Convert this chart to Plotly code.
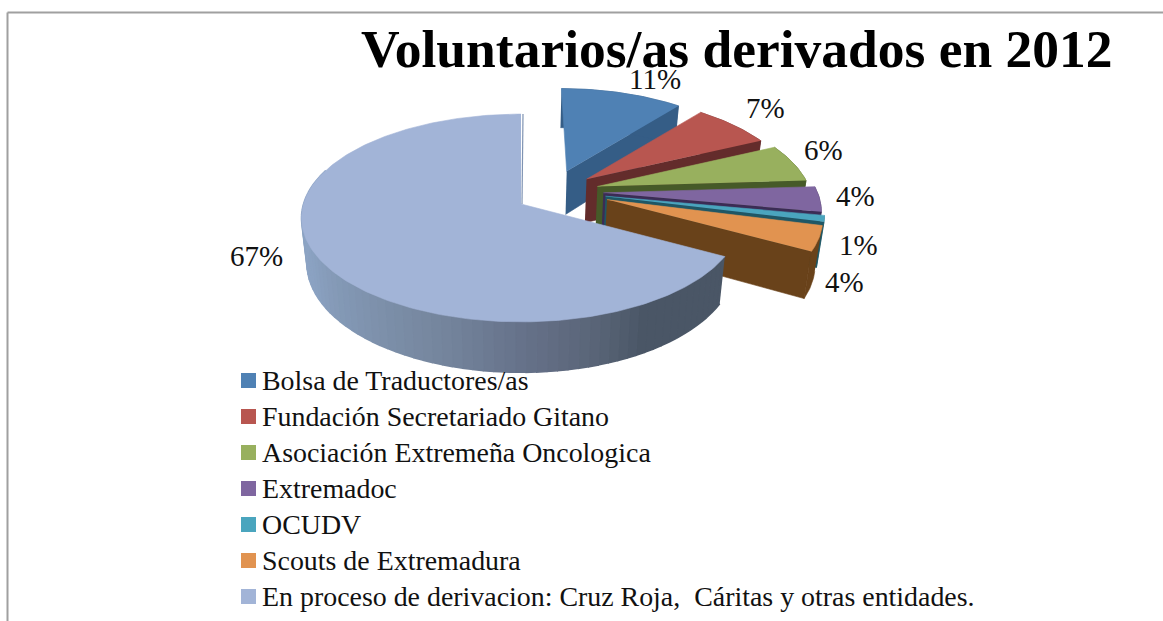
import math
import plotly.graph_objects as go

CATEGORIES = ["Bolsa de Traductores/as", "Fundación Secretariado Gitano",
              "Asociación Extremeña Oncologica", "Extremadoc", "OCUDV",
              "Scouts de Extremadura",
              "En proceso de derivacion: Cruz Roja,  Cáritas y otras entidades."]
VALUES = [11, 7, 6, 4, 1, 4, 67]
TITLE = "Voluntarios/as derivados en 2012"
TOP_COLORS = ["#4F81B4", "#B85650", "#98B05E", "#7F66A0", "#4AA5BE", "#E19350", "#A2B4D7"]
SIDE_COLORS = ["#355D86", "#632C2B", "#465A28", "#3B2C55", "#1F5765", "#69421A", "#4A5666"]
EXPLODE = [0.40, 0.40, 0.40, 0.40, 0.40, 0.40, 0.0]
RIM_X = [0.96, 0.985, 0.995, 1.0, 1.0, 0.98, 1.0]
LABEL_SHIFT = [(30, -14), (30, -17), (29, -13), (36, -3), (34, 26), (22, 43), (-64, -4)]
WALL_STOPS = [(118, "#4A5666"), (150, "#4A5666"), (163, "#5A6578"), (180, "#66728A"),
              (197, "#74849C"), (220, "#7F93AE"), (247, "#8BA2C2"), (290, "#8FA6C6")]

CX, CY, RX, RY, K = 521.0, 204.0, 217.5, 102.0, 0.1346
DEPTH, RY_BOTTOM, X_BOTTOM = 44.7, 107.0, 0.975
LEGEND_X, LEGEND_TEXT_X, LEGEND_TOP, LEGEND_PITCH = 248.5, 262.0, 380.5, 36.0
LEGEND_TEXT_DY = 3.0


def top(u, v):
    f = 1 / (1 + K * v)
    return CX + RX * u * f, CY - RY * v * f


def bottom(u, v):
    f = 1 / (1 + K * v)
    return CX + X_BOTTOM * RX * u * f, CY + DEPTH - RY_BOTTOM * v * f


def hexrgb(c):
    return [int(c[i:i + 2], 16) for i in (1, 3, 5)]


def wall_color(t):
    for (a, ca), (b, cb) in zip(WALL_STOPS, WALL_STOPS[1:]):
        if a <= t <= b:
            p = (t - a) / (b - a)
            r = [round(x + (y - x) * p) for x, y in zip(hexrgb(ca), hexrgb(cb))]
            return "rgb(%d,%d,%d)" % tuple(r)
    return WALL_STOPS[-1][1]


fig = go.Figure()


def poly(pts, color, width=0.6):
    fig.add_trace(go.Scatter(x=[p[0] for p in pts], y=[p[1] for p in pts], mode="lines",
                             fill="toself", fillcolor=color,
                             line=dict(color=color, width=width),
                             hoverinfo="skip", showlegend=False))


total = sum(VALUES)
start = 0.0
annotations = []
for i, val in enumerate(VALUES):
    end = start + 360.0 * val / total
    mid = (start + end) / 2
    d = math.radians(51 + 0.55 * (mid - 52))
    au, av = EXPLODE[i] * math.sin(d), EXPLODE[i] * math.cos(d)
    n = max(3, int(end - start) + 1)
    ts = [start + (end - start) * j / n for j in range(n + 1)]
    rim = [(au + RIM_X[i] * math.sin(math.radians(t)), av + math.cos(math.radians(t))) for t in ts]
    if i < len(VALUES) - 1:
        poly([top(au, av), top(*rim[-1]), bottom(*rim[-1]), bottom(au, av)], SIDE_COLORS[i])
        poly([top(*p) for p in rim] + [bottom(*p) for p in rim[::-1]], SIDE_COLORS[i])
    else:
        step = 2.5
        t = start
        while t < 290:
            t2 = min(t + step, 290)
            a = (math.sin(math.radians(t)), math.cos(math.radians(t)))
            b = (math.sin(math.radians(t2)), math.cos(math.radians(t2)))
            poly([top(*a), top(*b), bottom(*b), bottom(*a)], wall_color((t + t2) / 2), width=1.6)
            t = t2
    poly([top(au, av)] + [top(*p) for p in rim], TOP_COLORS[i])
    mx, my = top(au + math.sin(math.radians(mid)), av + math.cos(math.radians(mid)))
    annotations.append(dict(x=mx, y=my, xref="x", yref="y", text="%d%%" % val, showarrow=False,
                            xshift=LABEL_SHIFT[i][0], yshift=-LABEL_SHIFT[i][1],
                            font=dict(family="Liberation Serif", size=29, color="#111111")))
    start = end

# sliver of the inner wall beside the big slice's straight edge
e = top(0, 1)
fig.add_trace(go.Scatter(x=[CX + 1, e[0] + 2], y=[CY, e[1]], mode="lines",
                         line=dict(color="#7F93B2", width=1.2), hoverinfo="skip", showlegend=False))

# legend column: colour keys with their category names
rows = [LEGEND_TOP + LEGEND_PITCH * j for j in range(len(CATEGORIES))]
fig.add_trace(go.Scatter(x=[LEGEND_X] * len(CATEGORIES), y=rows, mode="markers",
                         marker=dict(symbol="square", size=15, color=TOP_COLORS, line=dict(width=0)),
                         hoverinfo="skip", showlegend=False, cliponaxis=False))
fig.add_trace(go.Scatter(x=[LEGEND_TEXT_X] * len(CATEGORIES), y=[r + LEGEND_TEXT_DY for r in rows],
                         mode="text", text=CATEGORIES, textposition="middle right",
                         textfont=dict(family="Liberation Serif", size=27.9, color="#111111"),
                         hoverinfo="text", showlegend=False, cliponaxis=False))

annotations.append(dict(x=737, y=48.5, xref="x", yref="y", text="<b>%s</b>" % TITLE, showarrow=False,
                        font=dict(family="Liberation Serif", size=53.5, color="#000000")))

fig.update_layout(
    width=1163, height=621, margin=dict(l=0, r=0, t=0, b=0),
    paper_bgcolor="white", plot_bgcolor="white", showlegend=False,
    xaxis=dict(range=[0, 1163], visible=False, fixedrange=True),
    yaxis=dict(range=[621, 0], visible=False, fixedrange=True),
    annotations=annotations,
    shapes=[dict(type="line", xref="paper", yref="paper", x0=7.5 / 1163, x1=1, y0=1 - 12.5 / 621, y1=1 - 12.5 / 621,
                 line=dict(color="#A0A0A0", width=2)),
            dict(type="line", xref="paper", yref="paper", x0=7.5 / 1163, x1=7.5 / 1163, y0=0, y1=1 - 12.5 / 621,
                 line=dict(color="#A0A0A0", width=2))],
)

fig.write_html("out.html", post_script="document.body.style.margin='0';", config={"displayModeBar": False})
